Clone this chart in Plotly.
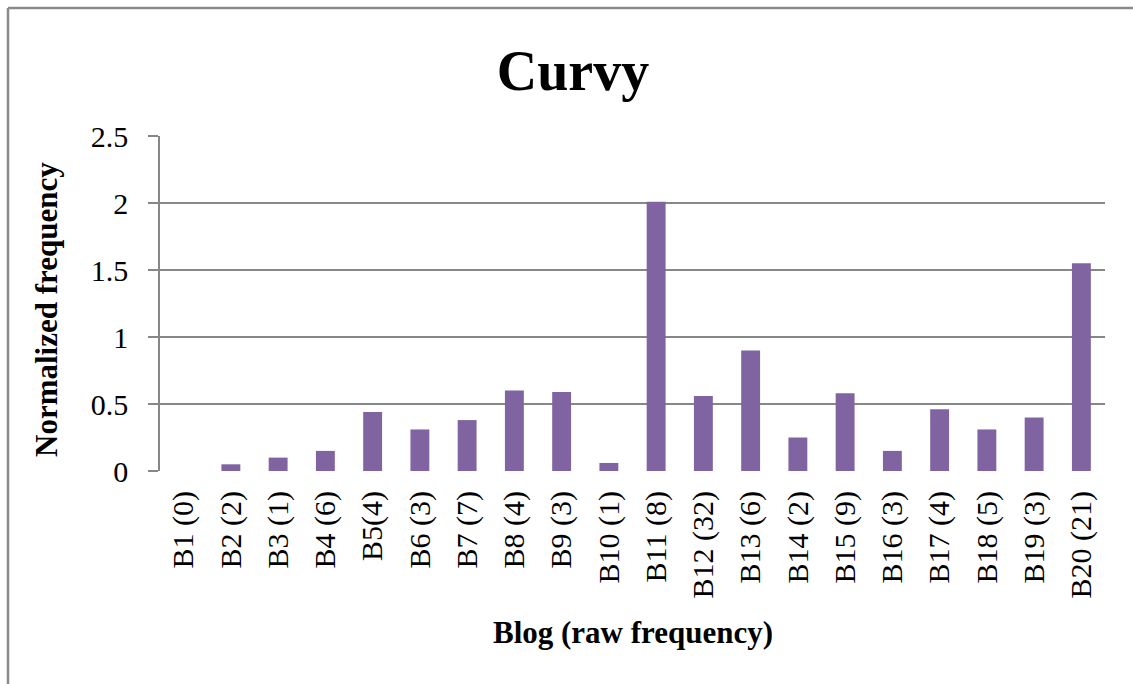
import plotly.graph_objects as go

# Blogs with raw counts, and their normalized frequency of "curvy"
blogs = ["B1 (0)", "B2 (2)", "B3 (1)", "B4 (6)", "B5(4)", "B6 (3)", "B7 (7)",
         "B8 (4)", "B9 (3)", "B10 (1)", "B11 (8)", "B12 (32)", "B13 (6)",
         "B14 (2)", "B15 (9)", "B16 (3)", "B17 (4)", "B18 (5)", "B19 (3)",
         "B20 (21)"]
norm_freq = [0.0, 0.05, 0.10, 0.15, 0.44, 0.31, 0.38, 0.60, 0.59, 0.06,
             2.01, 0.56, 0.90, 0.25, 0.58, 0.15, 0.46, 0.31, 0.40, 1.55]
y_ticks = [0, 0.5, 1, 1.5, 2, 2.5]
y_tick_text = ["0", "0.5", "1", "1.5", "2", "2.5"]

W, H = 1133, 684
L, R, T, B = 160, 28, 136, 213
pw, ph = W - L - R, H - T - B

def px_x(x):
    return (x - L) / pw

def px_y(y):
    return (H - B - y) / ph

GREY = "#878787"
FONT = "Liberation Serif"

fig = go.Figure(go.Bar(
    x=blogs, y=norm_freq,
    marker=dict(color="#8064A2", line=dict(width=0)),
))

fig.update_layout(
    width=W, height=H,
    margin=dict(l=L, r=R, t=T, b=B),
    paper_bgcolor="white", plot_bgcolor="white",
    bargap=0.6,
    showlegend=False,
    font=dict(family=FONT, color="black"),
    title=dict(text="<b>Curvy</b>", font=dict(family=FONT, size=56, color="black"),
               x=573 / W, xref="container", xanchor="center",
               y=1 - 70 / H, yref="container", yanchor="middle"),
)

fig.update_xaxes(
    type="category",
    tickangle=-90,
    tickfont=dict(family=FONT, size=30, color="black"),
    showgrid=False,
    showline=False,
    ticks="",
    ticklabelstandoff=13,
)

fig.update_yaxes(
    range=[0, 2.5],
    tickvals=y_ticks, ticktext=y_tick_text,
    tickfont=dict(family=FONT, size=30, color="black"),
    showgrid=True, gridcolor=GREY, gridwidth=1.5,
    showline=True, linecolor=GREY, linewidth=1.5,
    ticks="outside", ticklen=10, tickcolor=GREY, tickwidth=1.5,
    ticklabelstandoff=14,
    zeroline=False,
)

# axis titles
fig.add_annotation(text="<b>Normalized frequency</b>", textangle=-90,
                   xref="paper", yref="paper", x=px_x(46), y=px_y(310),
                   xanchor="center", yanchor="middle", showarrow=False,
                   font=dict(family=FONT, size=31, color="black"))
fig.add_annotation(text="<b>Blog (raw frequency)</b>",
                   xref="paper", yref="paper", x=px_x(633), y=px_y(632),
                   xanchor="center", yanchor="middle", showarrow=False,
                   font=dict(family=FONT, size=31, color="black"))

# outer chart frame (left and top edges)
fig.add_shape(type="line", xref="paper", yref="paper",
              x0=px_x(8), x1=px_x(8), y0=px_y(8), y1=px_y(H + 5),
              line=dict(color="#8a8a8a", width=2.5))
fig.add_shape(type="line", xref="paper", yref="paper",
              x0=px_x(8), x1=px_x(W + 5), y0=px_y(8), y1=px_y(8),
              line=dict(color="#8a8a8a", width=2.5))

fig.write_html("out.html")
